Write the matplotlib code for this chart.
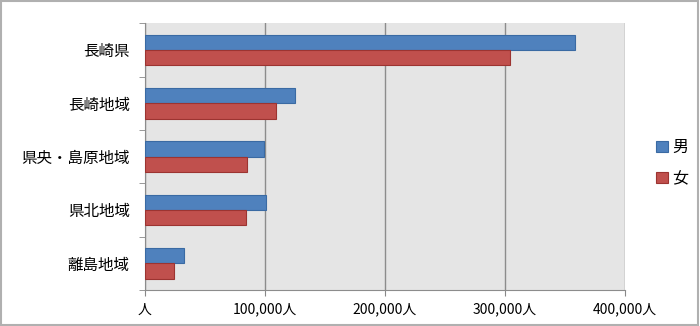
import matplotlib
matplotlib.use('Agg')
import matplotlib.pyplot as plt
from matplotlib.patches import Rectangle
import numpy as np

plt.rcParams['font.family'] = ['Noto Sans CJK JP', 'DejaVu Sans']

# 地域別人口（男女）
regions = ['長崎県', '長崎地域', '県央・島原地域', '県北地域', '離島地域']
male = [358300, 125000, 98900, 101100, 32200]
female = [303900, 109200, 85000, 84400, 24400]
xticks = [0, 100000, 200000, 300000, 400000]
xlabels = ['人', '100,000人', '200,000人', '300,000人', '400,000人']

fig = plt.figure(figsize=(7, 3.26), dpi=100)
ax = fig.add_axes([145/700, 36/326, 480/700, 266.7/326])
ax.set_facecolor('#e5e5e5')

n = len(regions)
y = np.arange(n)[::-1]
h = 0.287
ax.barh(y + h/2, male, height=h, color='#4f81bd', edgecolor='#3a6aa3', linewidth=0.8, label='男', zorder=3)
ax.barh(y - h/2, female, height=h, color='#c0504d', edgecolor='#9c3431', linewidth=0.8, label='女', zorder=3)

ax.set_xlim(0, 400000)
ax.set_ylim(-0.5, n - 0.5)
ax.set_xticks(xticks)
ax.set_xticklabels(xlabels, fontsize=10)
ax.set_yticks(y)
ax.set_yticklabels(regions, fontsize=11.2)
ax.set_yticks(np.arange(n + 1) - 0.5, minor=True)
ax.tick_params(axis='y', which='major', length=0, pad=11)
ax.tick_params(axis='y', which='minor', length=4, color='#888888', direction='out')
ax.tick_params(axis='x', length=4, color='#888888', pad=5)

ax.grid(axis='x', color='#8c8c8c', linewidth=1, zorder=1)
for s in ['top', 'right']:
    ax.spines[s].set_visible(False)
ax.spines['left'].set_color('#8c8c8c')
ax.spines['bottom'].set_color('#8c8c8c')

fig.legend(loc='center left', bbox_to_anchor=(642/700, 163/326), frameon=False,
           fontsize=11.5, handlelength=0.7, handleheight=0.7, handletextpad=0.3,
           labelspacing=0.9)

fig.patches.append(Rectangle((0.002, 0.003), 0.995, 0.993, transform=fig.transFigure,
                             fill=False, edgecolor='#b0b0b0', linewidth=1.5))

fig.savefig('out.png', dpi=100)
